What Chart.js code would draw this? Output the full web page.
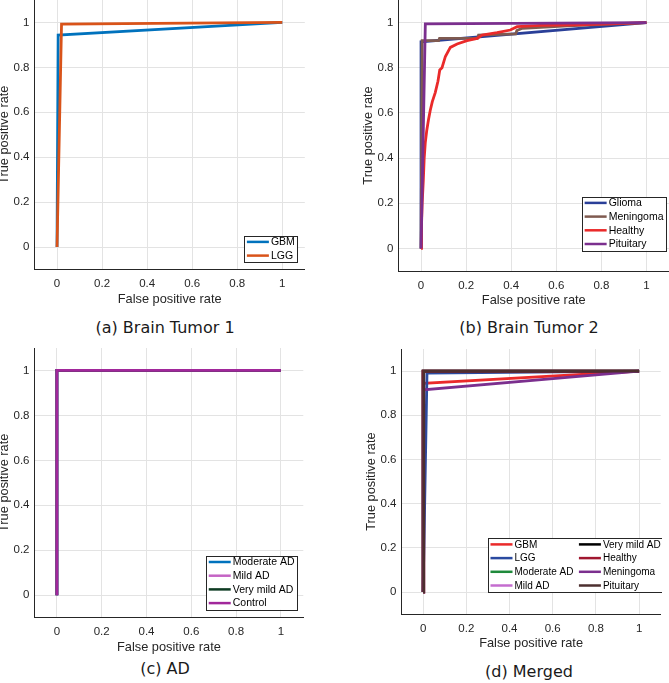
<!DOCTYPE html>
<html>
<head>
<meta charset="utf-8">
<title>ROC curves</title>
<script src="https://cdn.jsdelivr.net/npm/chart.js@4.4.0/dist/chart.umd.min.js"></script>
<style>
    body { margin: 0; background: #fff; }
    #wrap { position: relative; width: 669px; height: 683px; overflow: hidden; background: #fff; }
    #wrap canvas { position: absolute; }
    .cap { position: absolute; font: 16px "DejaVu Sans", sans-serif; color: #1a1a1a; white-space: nowrap; transform: translate(-50%, -50%); }
</style>
</head>
<body>
<div id="wrap">
    <canvas id="chartA"></canvas>
    <canvas id="chartB"></canvas>
    <canvas id="chartC"></canvas>
    <canvas id="chartD"></canvas>
    <div class="cap" style="left:165px;top:327px">(a) Brain Tumor 1</div>
    <div class="cap" style="left:529px;top:327px">(b) Brain Tumor 2</div>
    <div class="cap" style="left:165px;top:668px">(c) AD</div>
    <div class="cap" style="left:529px;top:671px">(d) Merged</div>
</div>
<script>
// shared axis ticks
const tickValues = [0, 0.2, 0.4, 0.6, 0.8, 1];
const tickLabels = ['0', '0.2', '0.4', '0.6', '0.8', '1'];

// (a) Brain Tumor 1
const aLabels = ['GBM', 'LGG'];
const aGbmFpr = [0, 0.005, 1];
const aGbmTpr = [0, 0.944, 1];
const aLggFpr = [0, 0.02, 1];
const aLggTpr = [0, 0.993, 1];

// (b) Brain Tumor 2
const bLabels = ['Glioma', 'Meningoma', 'Healthy', 'Pituitary'];
const bGliomaFpr = [0, 0, 1];
const bGliomaTpr = [0, 0.915, 1];
const bMeningFpr = [0, 0.005, 0.078, 0.082, 0.25, 0.255, 0.42, 0.425, 0.45, 0.65, 1];
const bMeningTpr = [0, 0.92, 0.92, 0.93, 0.93, 0.945, 0.95, 0.965, 0.975, 0.985, 1];
const bHealthyFpr = [0, 0.002, 0.005, 0.01, 0.014, 0.019, 0.025, 0.033, 0.041, 0.05, 0.063, 0.075, 0.083, 0.093, 0.108, 0.13, 0.16, 0.204, 0.249, 0.271, 0.337, 0.396, 0.426, 0.53, 0.7, 1];
const bHealthyTpr = [0, 0.1, 0.2, 0.3, 0.4, 0.47, 0.52, 0.57, 0.612, 0.65, 0.69, 0.74, 0.79, 0.8, 0.85, 0.89, 0.905, 0.92, 0.93, 0.945, 0.955, 0.967, 0.982, 0.988, 0.99, 1];
const bPituFpr = [0, 0.019, 1];
const bPituTpr = [0, 0.994, 1];

// (c) AD - every class is a perfect classifier
const cLabels = ['Moderate AD', 'Mild AD', 'Very mild AD', 'Control'];
const cFpr = [0, 0, 1];
const cTpr = [0, 1, 1];

// (d) Merged
const dLabels = ['GBM', 'LGG', 'Moderate AD', 'Mild AD', 'Very mild AD', 'Healthy', 'Meningoma', 'Pituitary'];
const dGbmFpr = [0, 0.003, 1];
const dGbmTpr = [0, 0.945, 1];
const dLggFpr = [0, 0.018, 1];
const dLggTpr = [0, 0.991, 1];
const dPerfectFpr = [0, 0, 1];
const dPerfectTpr = [0, 1, 1];
const dMeningFpr = [0, 0.003, 1];
const dMeningTpr = [0, 0.915, 1];
const dPituFpr = [0, 0.003, 1];
const dPituTpr = [0, 1, 1];

const FONT = '"Liberation Sans", Arial, sans-serif';
const AXIS_W = 37.5;   // y axis box width
const AXIS_H = 37.3;   // x axis box height

// matlab style legend drawn inside the axes (bottom right)
const legendBox = {
    id: 'legendBox',
    afterDatasetsDraw(chart, args, opts) {
        const { ctx, chartArea } = chart;
        const sets = chart.data.datasets;
        const rows = Math.ceil(sets.length / opts.cols);
        const rowH = 13.7;
        ctx.save();
        ctx.font = `${opts.size}px ${FONT}`;
        const colW = [];
        for (let c = 0; c < opts.cols; c++) {
            let w = 0;
            sets.slice(c * rows, (c + 1) * rows).forEach(d => { w = Math.max(w, ctx.measureText(d.label).width); });
            colW.push(26.5 + w + 3);
        }
        const boxW = colW.reduce((a, b) => a + b, 0);
        const boxH = rows * rowH - 1;
        const x0 = chartArea.right - opts.right - boxW;
        const y0 = chartArea.bottom - opts.bottom - boxH;
        ctx.fillStyle = '#fff';
        ctx.fillRect(x0, y0, boxW, boxH);
        ctx.strokeStyle = '#262626';
        ctx.lineWidth = 1;
        ctx.strokeRect(Math.round(x0) + 0.5, Math.round(y0) + 0.5, Math.round(boxW), Math.round(boxH));
        ctx.textAlign = 'left';
        ctx.textBaseline = 'middle';
        sets.forEach((d, i) => {
            const c = Math.floor(i / rows), r = i % rows;
            const cx = x0 + colW.slice(0, c).reduce((a, b) => a + b, 0);
            const cy = y0 + 6 + r * rowH;
            ctx.strokeStyle = d.borderColor;
            ctx.lineWidth = 2.5;
            ctx.beginPath();
            ctx.moveTo(cx + 2.5, cy);
            ctx.lineTo(cx + 24.5, cy);
            ctx.stroke();
            ctx.fillStyle = '#000';
            ctx.fillText(d.label, cx + 26.5, cy + 0.5);
        });
        ctx.restore();
    }
};

function axis(title, which) {
    return {
        type: 'linear',
        min: -0.1,
        max: 1.1,
        afterBuildTicks: s => { s.ticks = tickValues.map(v => ({ value: v })); },
        afterFit: s => {
            // fixed axis boxes, and no extra room for end labels
            if (which === 'y') s.width = AXIS_W; else s.height = AXIS_H;
            s.paddingTop = 0; s.paddingBottom = 0;
            s.paddingLeft = 0; s.paddingRight = 0;
        },
        grid: { color: '#e3e3e3', drawTicks: false, lineWidth: 1 },
        border: { color: '#262626', width: 1 },
        ticks: {
            padding: which === 'y' ? 5 : 7.5,
            color: '#262626',
            font: { family: FONT, size: 11.5 },
            callback: (v, i) => tickLabels[i]
        },
        title: { display: true, text: title, color: '#262626', font: { family: FONT, size: 12.8 }, padding: 0 }
    };
}

// area = page position of the plotting box (from -0.1 to 1.1 on both axes)
function makePanel(id, area, series, legend) {
    const cv = document.getElementById(id);
    const left = area.left - AXIS_W;
    const w = Math.ceil(area.right - left) + 1;
    const h = Math.ceil(area.bottom - area.top + AXIS_H);
    cv.width = w;
    cv.height = h;
    cv.style.left = left + 'px';
    cv.style.top = area.top + 'px';
    return new Chart(cv, {
        type: 'line',
        data: {
            datasets: series.map((s, i) => ({
                label: s.label,
                data: s.x.map((x, j) => ({ x: x, y: s.y[j] })),
                borderColor: s.color,
                backgroundColor: s.color,
                borderWidth: 2.8,
                pointRadius: 0,
                tension: 0,
                fill: false,
                order: series.length - i   // later series on top, like matlab
            }))
        },
        options: {
            responsive: false,
            animation: false,
            layout: { padding: { left: 0, top: 0, right: w - (area.right - left), bottom: h - (area.bottom - area.top) - AXIS_H } },
            plugins: { legend: { display: false }, tooltip: { enabled: false }, legendBox: legend },
            scales: { x: axis('False positive rate', 'x'), y: axis('True positive rate', 'y') }
        },
        plugins: [legendBox]
    });
}

makePanel('chartA', { left: 34.5, top: 0, right: 304.8, bottom: 269.5 }, [
    { label: aLabels[0], x: aGbmFpr, y: aGbmTpr, color: '#0072bd' },
    { label: aLabels[1], x: aLggFpr, y: aLggTpr, color: '#d95319' }
], { cols: 1, size: 10.5, right: 7, bottom: 7.2 });

makePanel('chartB', { left: 398, top: 0, right: 668.5, bottom: 271 }, [
    { label: bLabels[0], x: bGliomaFpr, y: bGliomaTpr, color: '#2a3f98' },
    { label: bLabels[1], x: bMeningFpr, y: bMeningTpr, color: '#7f5a50' },
    { label: bLabels[2], x: bHealthyFpr, y: bHealthyTpr, color: '#ea2a2a' },
    { label: bLabels[3], x: bPituFpr, y: bPituTpr, color: '#7b2f8e' }
], { cols: 1, size: 10.5, right: 2.5, bottom: 20.3 });

makePanel('chartC', { left: 34.6, top: 348.2, right: 303.4, bottom: 617.8 }, [
    { label: cLabels[0], x: cFpr, y: cTpr, color: '#0072bd' },
    { label: cLabels[1], x: cFpr, y: cTpr, color: '#c464c4' },
    { label: cLabels[2], x: cFpr, y: cTpr, color: '#0d3b22' },
    { label: cLabels[3], x: cFpr, y: cTpr, color: '#a1279b' }
], { cols: 1, size: 10.5, right: 5.7, bottom: 7.8 });

makePanel('chartD', { left: 401.1, top: 348.6, right: 660.3, bottom: 613.8 }, [
    { label: dLabels[0], x: dGbmFpr, y: dGbmTpr, color: '#ea2a2a' },
    { label: dLabels[1], x: dLggFpr, y: dLggTpr, color: '#2a4aa0' },
    { label: dLabels[2], x: dPerfectFpr, y: dPerfectTpr, color: '#1f8a3b' },
    { label: dLabels[3], x: dPerfectFpr, y: dPerfectTpr, color: '#c46dcf' },
    { label: dLabels[4], x: dPerfectFpr, y: dPerfectTpr, color: '#000000' },
    { label: dLabels[5], x: dPerfectFpr, y: dPerfectTpr, color: '#a0172f' },
    { label: dLabels[6], x: dMeningFpr, y: dMeningTpr, color: '#7b2f8e' },
    { label: dLabels[7], x: dPituFpr, y: dPituTpr, color: '#4d2f2f' }
], { cols: 2, size: 10, right: -3, bottom: 22 });
</script>
</body>
</html>
